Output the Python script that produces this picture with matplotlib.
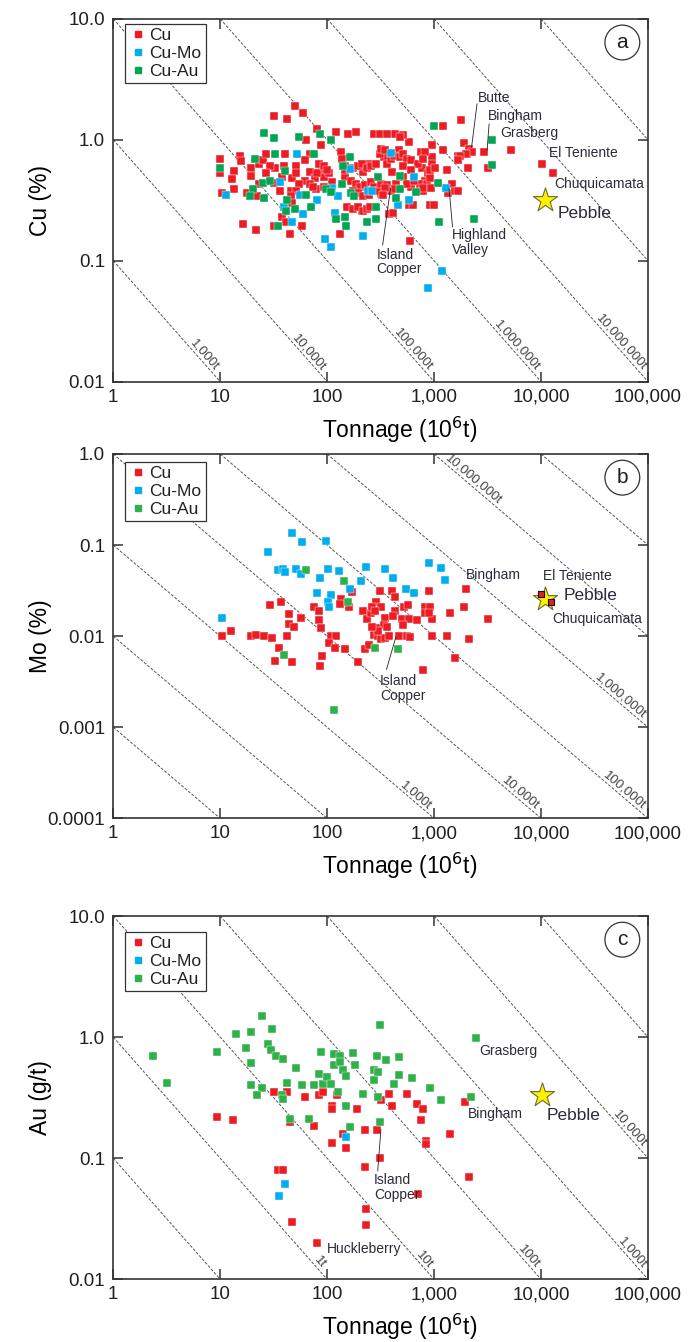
import matplotlib.pyplot as plt
import numpy as np
from matplotlib.lines import Line2D
from matplotlib.ticker import NullLocator

plt.rcParams['font.family'] = ['Liberation Sans', 'DejaVu Sans']
plt.rcParams['text.color'] = '#231f20'

# ---- data: (tonnage in Mt, grade) ----
# panel a: Cu (%)
a_cu = [(10, 0.69), (10, 0.53), (10.5, 0.365), (13.4, 0.55), (12.8, 0.47), (13.4, 0.39), (15.3, 0.73), (15.5, 0.67),
        (16.5, 0.20), (17.8, 0.365), (19.5, 0.59), (19.5, 0.50), (21.8, 0.18), (22.3, 0.34), (23.2, 0.63), (25.2, 0.675),
        (26.7, 0.76), (31.8, 1.56), (32, 0.44), (31.8, 0.195), (37.7, 0.49), (42.1, 1.49), (50, 1.92), (40.3, 0.76),
        (39.8, 0.61), (44.9, 0.165), (45.5, 0.38), (46.5, 0.48), (37.7, 0.23), (41.2, 0.21), (51, 0.61), (58.2, 0.195),
        (59, 1.66), (61.5, 0.46), (63.6, 0.99), (68.7, 0.54), (76.8, 0.48), (79.1, 0.39), (81, 1.23), (88, 0.90),
        (89.5, 0.54), (111, 0.45), (122, 1.16), (131, 0.165), (135, 0.79), (155, 1.12), (187, 1.16), (210, 0.26),
        (218, 0.54), (245, 0.63), (137, 0.70), (148, 0.61), (173, 0.58), (194, 0.61), (210, 0.63), (236, 0.58),
        (148, 0.49), (166, 0.46), (187, 0.43), (202, 0.41), (227, 0.42), (173, 0.38), (194, 0.36), (218, 0.34),
        (245, 0.35), (153, 0.28), (173, 0.27), (194, 0.28), (218, 0.26), (236, 0.27), (148, 0.56), (93, 0.49),
        (104, 0.53), (80, 0.53), (69, 0.43), (74, 0.41), (83, 0.63), (93, 0.61), (100, 0.56), (69, 0.77),
        (61.5, 0.675), (51, 0.53), (55, 0.43), (51, 0.38), (45.5, 0.34), (47, 0.30), (36, 0.38), (32.5, 0.59),
        (29, 0.61), (27, 0.53), (23, 0.43), (93, 0.41), (251, 0.28), (276, 1.12), (310, 1.12), (322, 0.36),
        (343, 0.72), (377, 0.245), (407, 0.54), (434, 1.12), (469, 0.82), (584, 0.96), (584, 0.29), (602, 0.41),
        (760, 0.79), (772, 0.58), (822, 0.46), (920, 0.29), (962, 0.90), (962, 0.72), (1198, 1.30), (1217, 0.82),
        (1316, 0.56), (1337, 0.36), (1459, 0.43), (1577, 0.38), (1666, 0.74), (1802, 1.46), (1920, 0.95),
        (2077, 0.58), (2110, 0.84), (2030, 0.77), (2935, 0.79), (3178, 0.58), (5200, 0.82), (10150, 0.63),
        (12820, 0.53), (593, 0.145), (255, 0.61), (287, 0.63), (310, 0.77), (322, 0.84), (348, 0.82), (362, 0.63),
        (392, 0.70), (424, 0.74), (476, 0.72), (515, 0.77), (556, 0.70), (602, 0.675), (515, 0.61), (704, 0.63),
        (255, 0.45), (276, 0.41), (298, 0.38), (322, 0.43), (362, 0.42), (392, 0.38), (731, 0.43), (790, 0.38),
        (855, 0.43), (886, 0.53), (962, 0.63), (602, 0.56), (515, 0.49), (440, 0.43), (556, 0.43), (650, 0.46),
        (2250, 0.79), (1990, 0.77), (1740, 0.74), (1680, 0.68), (1680, 0.38), (990, 0.29), (825, 0.79), (785, 0.70),
        (510, 1.09), (480, 1.05), (360, 1.12), (640, 0.29), (415, 0.25), (785, 0.40), (935, 0.40), (915, 0.48),
        (915, 0.56), (345, 0.40), (430, 0.39), (335, 0.35), (1010, 0.58)]
a_cumo = [(11.4, 0.35), (36.3, 0.45), (39.8, 0.28), (47.2, 0.21), (52, 0.77), (55.6, 0.35), (59.5, 0.245),
          (79.7, 0.32), (112, 0.40), (119, 0.25), (126, 0.34), (162, 0.57), (215, 0.16), (240, 0.38), (265, 0.38),
          (395, 0.78), (460, 0.29), (580, 0.32), (650, 0.49), (886, 0.059), (1180, 0.082), (1290, 0.40),
          (109, 0.13), (96, 0.15)]
a_cuau = [(10, 0.59), (21, 0.69), (20.2, 0.39), (18.8, 0.34), (25, 0.44), (25.9, 0.33), (25.7, 1.14), (29.5, 0.46),
          (31.8, 1.04), (32.5, 0.76), (34.5, 0.195), (40.6, 0.55), (41.9, 0.315), (41.2, 0.26), (49.8, 0.27),
          (54.8, 1.05), (63.6, 0.35), (71.3, 0.28), (75, 0.76), (86.6, 1.12), (97, 0.39), (108, 0.99), (108, 0.37),
          (122, 0.22), (137, 0.43), (142, 0.61), (148, 0.23), (150, 0.195), (162, 0.72), (167, 0.36), (180, 0.34),
          (236, 0.21), (287, 0.28), (289, 0.22), (298, 0.49), (440, 0.33), (476, 0.50), (483, 0.39), (676, 0.37),
          (1000, 1.31), (1080, 0.44), (1110, 0.21), (2337, 0.22), (3515, 1.0), (3515, 0.62)]
a_pebble = (11000, 0.32)

# panel b: Mo (%)
b_cu = [(10.5, 0.010), (12.7, 0.0114), (19.2, 0.010), (21.5, 0.0104), (25.9, 0.010), (30.6, 0.0096), (35.5, 0.0075),
        (32.5, 0.0054), (42.5, 0.010), (46.6, 0.0052), (29.5, 0.022), (36.9, 0.024), (43.8, 0.0177), (43.8, 0.0135),
        (49.4, 0.0127), (57, 0.016), (75, 0.021), (83, 0.019), (84, 0.0149), (87, 0.0124), (90, 0.0061),
        (85, 0.0047), (108, 0.010), (121, 0.010), (104, 0.0085), (118, 0.0075), (148, 0.0072), (135, 0.0255),
        (131, 0.0225), (160, 0.0207), (169, 0.0303), (194, 0.0052), (218, 0.0187), (227, 0.0072), (236, 0.0153),
        (245, 0.0081), (255, 0.018), (287, 0.0235), (298, 0.0124), (310, 0.031), (322, 0.021), (348, 0.016),
        (276, 0.0104), (298, 0.010), (322, 0.0094), (348, 0.0095), (377, 0.010), (407, 0.031), (427, 0.019),
        (434, 0.0267), (469, 0.010), (525, 0.021), (556, 0.010), (498, 0.0153), (578, 0.0153), (690, 0.0149),
        (780, 0.0043), (822, 0.0207), (822, 0.018), (895, 0.031), (962, 0.0153), (962, 0.010), (1316, 0.010),
        (1397, 0.018), (1577, 0.0058), (1894, 0.021), (1990, 0.033), (2110, 0.0092), (3200, 0.0153),
        (260, 0.021), (280, 0.019), (340, 0.0134), (360, 0.0125), (300, 0.0115), (265, 0.0125), (415, 0.0166),
        (510, 0.0134), (601, 0.0098), (570, 0.022), (915, 0.0207), (898, 0.0178)]
b_cumo = [(46.5, 0.136), (58.4, 0.108), (97, 0.110), (27.9, 0.083), (35, 0.053), (39, 0.054), (40.6, 0.0506),
          (51.6, 0.054), (57, 0.048), (102, 0.054), (128, 0.052), (230, 0.058), (350, 0.054), (86, 0.044),
          (209, 0.0405), (410, 0.044), (80, 0.030), (162, 0.033), (545, 0.033), (650, 0.030), (898, 0.0636),
          (1172, 0.056), (1260, 0.041), (108, 0.028), (101, 0.0235), (104, 0.0207), (10.5, 0.016)]
b_cuau = [(63, 0.053), (144, 0.0405), (158, 0.024), (39.8, 0.0062), (281, 0.0075), (462, 0.0072), (115, 0.00155)]
b_pebble = (11000, 0.0255)
b_on_star = [(9930, 0.029), (12500, 0.0239)]  # El Teniente, Chuquicamata

# panel c: Au (g/t)
c_cu = [(9.3, 0.217), (13.2, 0.206), (31.8, 0.355), (42.2, 0.355), (44.8, 0.20), (61.4, 0.319), (76, 0.186),
        (84.3, 0.335), (90.5, 0.355), (110, 0.272), (110, 0.256), (124, 0.33), (110, 0.133), (142, 0.16),
        (151, 0.121), (190, 0.254), (227, 0.17), (227, 0.0841), (231, 0.0383), (231, 0.0283), (293, 0.17),
        (310, 0.10), (317, 0.30), (377, 0.336), (407, 0.272), (556, 0.336), (687, 0.281), (790, 0.254),
        (749, 0.206), (835, 0.14), (835, 0.131), (704, 0.0505), (1402, 0.16), (1950, 0.294), (2110, 0.0703),
        (34.5, 0.0805), (38.3, 0.0805), (46.5, 0.0296), (80, 0.020)]
c_cumo = [(151, 0.149), (40, 0.0611), (35.8, 0.0489)]
c_cuau = [(2.33, 0.697), (3.15, 0.419), (9.4, 0.761), (14.0, 1.06), (19.2, 1.10), (24.5, 1.50), (30.7, 1.17),
          (17.4, 0.81), (19.2, 0.61), (27.9, 0.88), (30.1, 0.79), (33.2, 0.705), (38.3, 0.654), (50.9, 0.555),
          (19.2, 0.399), (24.5, 0.38), (22.3, 0.33), (37.8, 0.33), (42.2, 0.42), (38.3, 0.31), (57.9, 0.399),
          (76, 0.399), (84.3, 0.498), (87, 0.76), (90.5, 0.41), (100, 0.467), (108, 0.41), (117, 0.72),
          (131, 0.705), (117, 0.594), (132, 0.622), (140, 0.54), (151, 0.482), (173, 0.74), (182, 0.59),
          (151, 0.272), (162, 0.18), (125, 0.355), (68, 0.211), (44.8, 0.209), (218, 0.34), (272, 0.54),
          (276, 0.439), (294, 0.705), (298, 0.514), (315, 1.25), (298, 0.319), (310, 0.198), (357, 0.65),
          (424, 0.412), (465, 0.684), (465, 0.49), (625, 0.46), (925, 0.38), (1152, 0.30), (2195, 0.32),
          (2467, 0.987)]
c_pebble = (10100, 0.33)

# contained-metal lines (tonnage x grade) and their labels
a_lines = [0.1, 1, 10, 100, 1e3, 1e4, 1e5]
a_line_labels = [(0.1, '1,000t', 'end'), (1, '10,000t', 'end'), (10, '100,000t', 'end'),
                 (100, '1,000,000t', 'end'), (1e3, '10,000,000t', 'end')]
b_lines = [1e-3, 1e-2, 0.1, 1, 10, 100, 1e3, 1e4]
b_line_labels = [(0.1, '1,000t', 'end'), (1, '10,000t', 'end'), (10, '100,000t', 'end'),
                 (100, '1,000,000t', 'end'), (1e3, '10,000,000t', 'start')]
c_lines = [0.1, 1, 10, 100, 1e3, 1e4, 1e5]
c_line_labels = [(1, '1t', 'end'), (10, '10t', 'end'), (100, '100t', 'end'),
                 (1e3, '1,000t', 'end'), (1e4, '10,000t', 'end')]

# annotations: (text, tonnage, grade)
a_notes = [('Butte', 2580, 2.2), ('Bingham', 3200, 1.56), ('Grasberg', 4180, 1.14),
           ('El Teniente', 11800, 0.78), ('Chuquicamata', 13400, 0.43),
           ('Highland\nValley', 1455, 0.142), ('Island\nCopper', 290, 0.098)]
a_leaders = [((2520, 1.98), (2240, 0.87)), ((3265, 1.35), (3130, 0.82)),
             ((1486, 0.191), (1380, 0.395)), ((330, 0.135), (391, 0.395))]
a_pebble_label = (14400, 0.246)
b_notes = [('Bingham', 1965, 0.047), ('El Teniente', 10440, 0.0456), ('Chuquicamata', 12770, 0.0153),
           ('Island\nCopper', 311, 0.00268)]
b_leaders = [((359, 0.00433), (439, 0.0098))]
b_pebble_label = (16400, 0.0282)
c_notes = [('Grasberg', 2635, 0.775), ('Bingham', 2080, 0.232), ('Island\nCopper', 273, 0.0575),
           ('Huckleberry', 99, 0.0179)]
c_leaders = [((297, 0.0787), (318, 0.172))]
c_pebble_label = (11380, 0.225)

x_ticks = [1, 10, 100, 1000, 1e4, 1e5]
x_ticklabels = ['1', '10', '100', '1,000', '10,000', '100,000']

RED = '#ED1C24'
BLUE = '#00AEEF'
GREEN_A = '#00A651'
GREEN = '#2FB14A'
DARK = '#333333'

fig = plt.figure(figsize=(6.89, 13.42), dpi=100)


def draw_panel(ax, ylim, yticks, yticklabels, ylabel, products, line_labels,
               groups, pebble, notes, leaders, pebble_label, letter, leg_y):
    ax.set_xscale('log')
    ax.set_yscale('log')
    ax.set_xlim(1, 1e5)
    ax.set_ylim(*ylim)

    # angle of a slope -1 line on screen
    p1 = ax.transData.transform((1.0, 1.0))
    p2 = ax.transData.transform((10.0, 0.1))
    ang = np.degrees(np.arctan2(p2[1] - p1[1], p2[0] - p1[0]))

    for p in products:
        x0 = max(1, p / ylim[1])
        x1 = min(1e5, p / ylim[0])
        ax.plot([x0, x1], [p / x0, p / x1], color='#555555', lw=0.7,
                ls=(0, (3, 1.6)), zorder=1)
    for p, txt, where in line_labels:
        x0 = max(1, p / ylim[1])
        x1 = min(1e5, p / ylim[0])
        if where == 'end':
            xa = x1 / 1.18
            ax.text(xa, p / xa, txt, rotation=ang, rotation_mode='anchor',
                    ha='right', va='bottom', fontsize=9.5, color='#444444', zorder=2)
        else:
            xa = x0 * 1.2
            ax.text(xa, p / xa, txt, rotation=ang, rotation_mode='anchor',
                    ha='left', va='bottom', fontsize=9.5, color='#444444', zorder=2)

    for pts, col in groups:
        t, g = zip(*pts)
        ax.scatter(t, g, marker='s', s=26, color=col, edgecolors='white',
                   linewidths=0.3, zorder=3)

    ax.scatter([pebble[0]], [pebble[1]], marker='*', s=330, color='#FFF200',
               edgecolors='#6b6b3a', linewidths=0.8, zorder=4)

    for txt, t, g in notes:
        ax.text(t, g, txt, ha='left', va='center', fontsize=10, linespacing=1.05,
                color='#2b2b3a', zorder=5)
    for (xa, ya), (xb, yb) in leaders:
        ax.plot([xa, xb], [ya, yb], color='#222222', lw=0.6, zorder=5)
    ax.text(pebble_label[0], pebble_label[1], 'Pebble', ha='left', va='center',
            fontsize=12.5, color='#2b2b3a', zorder=5)

    ax.set_xticks(x_ticks)
    ax.set_xticklabels(x_ticklabels)
    ax.set_yticks(yticks)
    ax.set_yticklabels(yticklabels)
    ax.xaxis.set_minor_locator(NullLocator())
    ax.yaxis.set_minor_locator(NullLocator())
    ax.tick_params(which='major', direction='in', length=7, width=1.1, color=DARK,
                   top=True, right=True, labelsize=13.5, labelcolor='#231f20')
    ax.tick_params(axis='x', pad=5)
    ax.tick_params(axis='y', pad=6)
    for s in ax.spines.values():
        s.set_linewidth(1.2)
        s.set_color(DARK)

    ax.set_xlabel('Tonnage (10$^6$t)', fontsize=16.5)
    ax.xaxis.set_label_coords(0.536, -0.09)
    ax.set_ylabel(ylabel, fontsize=16.5)
    ax.yaxis.set_label_coords(-0.115, 0.5)

    handles = [Line2D([], [], marker='s', ls='', color=c, markersize=5) for c in
               (RED, BLUE, groups[2][1])]
    leg = ax.legend(handles, ['Cu', 'Cu-Mo', 'Cu-Au'], loc='upper left',
                    bbox_to_anchor=(0.022, leg_y), borderaxespad=0, fontsize=12.5,
                    frameon=True, fancybox=False, edgecolor=DARK, framealpha=1,
                    borderpad=0.25, labelspacing=0.15, handlelength=1.0,
                    handletextpad=0.15)
    leg.get_frame().set_linewidth(0.9)
    leg.set_zorder(6)

    ax.text(0.952, 0.935, letter, transform=ax.transAxes, fontsize=15,
            ha='center', va='center', zorder=7,
            bbox=dict(boxstyle='circle,pad=0.38', fc='white', ec=DARK, lw=0.9))


left, width = 0.1644, 0.7761
ax_a = fig.add_axes([left, 0.7156, width, 0.2703])
ax_b = fig.add_axes([left, 0.3902, width, 0.2715])
ax_c = fig.add_axes([left, 0.0467, width, 0.2707])

draw_panel(ax_a, (0.01, 10), [0.01, 0.1, 1, 10], ['0.01', '0.1', '1.0', '10.0'], 'Cu (%)',
           a_lines, a_line_labels, [(a_cu, RED), (a_cumo, BLUE), (a_cuau, GREEN_A)],
           a_pebble, a_notes, a_leaders, a_pebble_label, 'a', 0.986)
draw_panel(ax_b, (1e-4, 1), [1e-4, 1e-3, 1e-2, 0.1, 1], ['0.0001', '0.001', '0.01', '0.1', '1.0'],
           'Mo (%)', b_lines, b_line_labels, [(b_cu, RED), (b_cumo, BLUE), (b_cuau, GREEN)],
           b_pebble, b_notes, b_leaders, b_pebble_label, 'b', 0.979)
t, g = zip(*b_on_star)
ax_b.scatter(t, g, marker='s', s=18, color=RED, edgecolors='#111111', linewidths=0.8, zorder=4.5)
draw_panel(ax_c, (0.01, 10), [0.01, 0.1, 1, 10], ['0.01', '0.1', '1.0', '10.0'], 'Au (g/t)',
           c_lines, c_line_labels, [(c_cu, RED), (c_cumo, BLUE), (c_cuau, GREEN)],
           c_pebble, c_notes, c_leaders, c_pebble_label, 'c', 0.957)

fig.savefig('out.png', dpi=100)
